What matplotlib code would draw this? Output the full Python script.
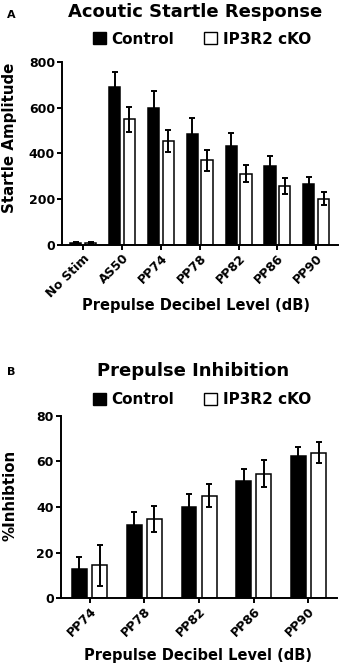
import matplotlib.pyplot as plt
import numpy as np
from matplotlib.patches import Patch

plt.rcParams['font.family'] = ['DejaVu Sans']
plt.rcParams['font.weight'] = 'bold'

# Panel A data
startle_labels = ['No Stim', 'AS50', 'PP74', 'PP78', 'PP82', 'PP86', 'PP90']
startle_control = [10, 690, 600, 487, 433, 345, 265]
startle_control_err = [3, 65, 72, 70, 56, 43, 32]
startle_cko = [10, 549, 454, 370, 312, 257, 202]
startle_cko_err = [3, 56, 50, 45, 38, 35, 29]

# Panel B data
ppi_labels = ['PP74', 'PP78', 'PP82', 'PP86', 'PP90']
ppi_control = [12.6, 32.0, 40.2, 51.6, 62.4]
ppi_control_err = [5.3, 5.7, 5.5, 5.0, 4.0]
ppi_cko = [14.4, 34.8, 45.0, 54.6, 63.8]
ppi_cko_err = [9.0, 5.7, 5.0, 6.0, 4.6]


def style_axis(ax):
    for s in ['top', 'right']:
        ax.spines[s].set_visible(False)
    for s in ['left', 'bottom']:
        ax.spines[s].set_linewidth(1.4)
    ax.tick_params(width=1.4, length=3.5, labelsize=9, pad=1.5)
    for lab in ax.get_yticklabels():
        lab.set_fontweight('bold')


def draw_bars(ax, labels, ctrl, ctrl_err, cko, cko_err, width, off):
    x = np.arange(len(labels))
    ekw = dict(ecolor='black', elinewidth=1.4, capsize=2.2, capthick=1.4)
    ax.bar(x - off, ctrl, width, color='black', edgecolor='black', linewidth=1.1,
           yerr=ctrl_err, error_kw=ekw)
    ax.bar(x + off, cko, width, color='white', edgecolor='black', linewidth=1.1,
           yerr=cko_err, error_kw=ekw)
    ax.set_xticks(x)
    ax.set_xticklabels(labels, rotation=45, ha='right', rotation_mode='anchor',
                       fontsize=9, fontweight='bold')


def add_legend(fig, y):
    handles = [Patch(facecolor='black', edgecolor='black', linewidth=1.0),
               Patch(facecolor='white', edgecolor='black', linewidth=1.0)]
    fig.legend(handles, ['Control', 'IP3R2 cKO'], loc='center', bbox_to_anchor=(0.594, y),
               ncol=2, frameon=False, handlelength=0.85, handleheight=0.85,
               handletextpad=0.35, columnspacing=2.0, borderpad=0,
               prop={'weight': 'bold', 'size': 11})


fig = plt.figure(figsize=(3.4, 6.67), dpi=100)

# Panel A
axA = fig.add_axes([0.182, 0.633, 0.812, 0.274])
draw_bars(axA, startle_labels, startle_control, startle_control_err,
          startle_cko, startle_cko_err, 0.29, 0.19)
axA.set_xlim(-0.55, 6.56)
axA.set_ylim(0, 800)
axA.set_yticks([0, 200, 400, 600, 800])
axA.set_ylabel('Startle Amplitude', fontsize=10.8, fontweight='bold', va='center')
axA.yaxis.set_label_coords(-0.19, 0.583)
axA.set_xlabel('Prepulse Decibel Level (dB)', fontsize=10.5, fontweight='bold', va='center')
axA.xaxis.set_label_coords(0.487, -0.331)
style_axis(axA)

# Panel B
axB = fig.add_axes([0.179, 0.1034, 0.812, 0.273])
draw_bars(axB, ppi_labels, ppi_control, ppi_control_err, ppi_cko, ppi_cko_err, 0.27, 0.185)
axB.set_xlim(-0.525, 4.52)
axB.set_ylim(0, 80)
axB.set_yticks([0, 20, 40, 60, 80])
axB.set_ylabel('%Inhibtion', fontsize=10.8, fontweight='bold', va='center')
axB.yaxis.set_label_coords(-0.185, 0.566)
axB.set_xlabel('Prepulse Decibel Level (dB)', fontsize=10.5, fontweight='bold', va='center')
axB.xaxis.set_label_coords(0.496, -0.313)
style_axis(axB)

# titles, panel letters, legends
fig.text(0.574, 1 - 12 / 667, 'Acoutic Startle Response', ha='center', va='center',
         fontsize=13, fontweight='bold')
fig.text(0.033, 1 - 15 / 667, 'A', ha='center', va='center', fontsize=8, fontweight='bold')
add_legend(fig, 1 - 39 / 667)

fig.text(0.569, 1 - 371 / 667, 'Prepulse Inhibition', ha='center', va='center',
         fontsize=13, fontweight='bold')
fig.text(0.033, 1 - 372 / 667, 'B', ha='center', va='center', fontsize=8, fontweight='bold')
add_legend(fig, 1 - 400 / 667)

fig.savefig('out.png', dpi=100)
